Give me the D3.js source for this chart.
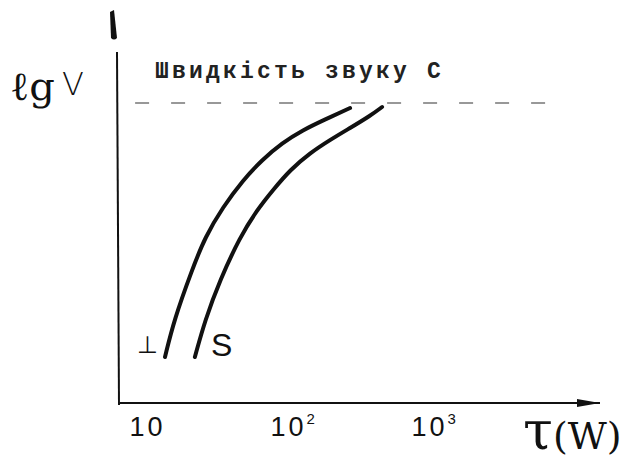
<!DOCTYPE html>
<html>
<head>
<meta charset="utf-8">
<script src="https://cdn.jsdelivr.net/npm/d3@7"></script>
<style>
  body { margin: 0; background: #fff; }
  svg { display: block; }
</style>
</head>
<body>
<div id="chart"></div>
<script>
// tau (x, log scale) and lg V (y, arbitrary units)
const perpTau = [13.2, 15.3, 20.5, 25.4, 34.0, 47.2, 64.3, 89.2, 125.7, 177, 271];
const perpLgV = [0.46, 0.83, 1.33, 1.66, 1.96, 2.23, 2.43, 2.60, 2.73, 2.83, 2.95];
const sTau = [21.5, 25.4, 32.4, 44.9, 59.3, 77.0, 101.6, 141, 195, 271, 375, 457];
const sLgV = [0.46, 0.83, 1.23, 1.66, 1.93, 2.13, 2.33, 2.50, 2.63, 2.75, 2.87, 2.96];
const soundLgV = 3;
const soundTau = [8.1, 7690];
const xTicks = [10, 100, 1000];
const xTickExp = ["", "2", "3"];
const soundLabel = "Швидкість звуку C";

const width = 631, height = 465;

const x = d3.scaleLog().domain([6.33, 20500]).range([120, 615]);
const y = d3.scaleLinear().domain([0, 3.93]).range([403, 10]);

const svg = d3.select("#chart")
  .append("svg")
  .attr("width", width)
  .attr("height", height);

// x axis
const xAxis = svg.append("g")
  .attr("transform", `translate(0,${y(0)})`)
  .call(d3.axisBottom(x).tickValues(xTicks).tickSize(0).tickFormat(() => "10"));
xAxis.select(".domain").attr("stroke", "#111").attr("stroke-width", 2).attr("d", `M${x.range()[0]},0H600`);
xAxis.selectAll("text")
  .attr("fill", "#111")
  .style("font-family", "Liberation Sans, Arial, sans-serif")
  .style("font-size", "27px")
  .style("letter-spacing", "3px")
  .attr("text-anchor", "start")
  .attr("dx", -19)
  .attr("y", 33)
  .attr("dy", 0)
  .each(function (d, i) {
    if (xTickExp[i]) {
      d3.select(this).append("tspan")
        .attr("dy", -12)
        .style("font-size", "15px")
        .text(xTickExp[i]);
    }
  });
svg.append("path")
  .attr("d", `M577,${y(0) - 4}L600,${y(0)}L577,${y(0) + 4}Z`)
  .attr("fill", "#111");

// y axis
svg.append("line")
  .attr("x1", 119).attr("x2", 117)
  .attr("y1", y(0) + 2).attr("y2", 52)
  .attr("stroke", "#111").attr("stroke-width", 2);
svg.append("path")
  .attr("d", "M111,38L110,12L114,10L117,38Q114,41 111,38Z")
  .attr("fill", "#111");

// sound speed line
svg.append("line")
  .attr("x1", x(soundTau[0])).attr("x2", x(soundTau[1]))
  .attr("y1", y(soundLgV)).attr("y2", y(soundLgV))
  .attr("stroke", "#777").attr("stroke-width", 1.5)
  .attr("stroke-dasharray", "14,22");

svg.append("text")
  .attr("x", 155).attr("y", 78)
  .style("font-family", "Liberation Mono, DejaVu Sans Mono, monospace")
  .style("font-size", "23px")
  .style("font-weight", "bold")
  .style("letter-spacing", "3.2px")
  .attr("fill", "#222")
  .text(soundLabel);

// curves
const line = d3.line()
  .x(d => x(d[0]))
  .y(d => y(d[1]))
  .curve(d3.curveBasis);

const series = [
  { tau: perpTau, v: perpLgV },
  { tau: sTau, v: sLgV }
];
svg.selectAll(".curve")
  .data(series)
  .join("path")
  .attr("class", "curve")
  .attr("d", d => line(d.tau.map((t, i) => [t, d.v[i]])))
  .attr("fill", "none")
  .attr("stroke", "#111")
  .attr("stroke-width", 4)
  .attr("stroke-linecap", "round");

// curve labels
svg.append("text")
  .attr("x", 137).attr("y", 353)
  .style("font-family", "DejaVu Sans, sans-serif")
  .style("font-size", "24px")
  .attr("fill", "#111")
  .text("⊥");
svg.append("text")
  .attr("x", 211).attr("y", 356)
  .style("font-family", "Liberation Sans, Arial, sans-serif")
  .style("font-size", "32px")
  .attr("fill", "#111")
  .text("S");

// axis titles
svg.append("text")
  .attr("x", 10).attr("y", 100)
  .style("font-family", "DejaVu Serif, serif")
  .style("font-size", "40px")
  .attr("fill", "#111")
  .text("ℓg");
svg.append("text")
  .attr("x", 62).attr("y", 95)
  .style("font-family", "DejaVu Sans, sans-serif")
  .style("font-size", "32px")
  .style("font-weight", "300")
  .attr("fill", "#111")
  .text("V");

const xTitle = svg.append("text")
  .attr("x", 523).attr("y", 449)
  .style("font-family", "DejaVu Serif, serif")
  .attr("fill", "#111");
xTitle.append("tspan").style("font-size", "54px").text("τ");
xTitle.append("tspan").style("font-size", "38px").text("(W)");
</script>
</body>
</html>
